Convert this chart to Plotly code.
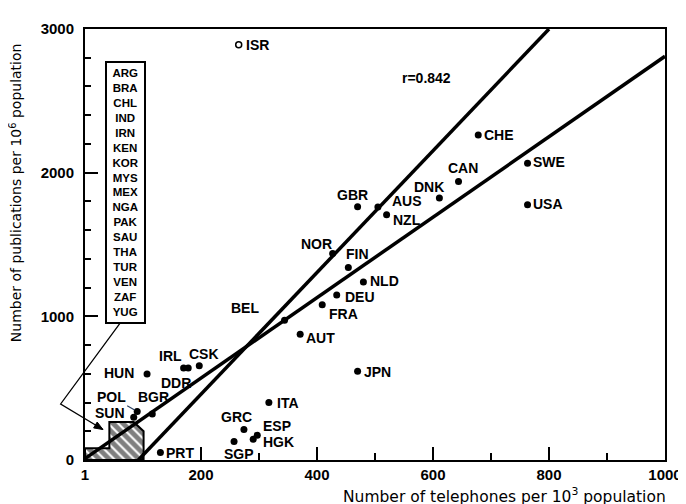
import math
import plotly.graph_objects as go

# ---------------- data ----------------
codes = ["ISR", "GBR", "AUS", "NZL", "DNK", "CHE", "CAN", "SWE", "USA", "NOR",
         "FIN", "NLD", "DEU", "FRA", "BEL", "AUT", "JPN", "ITA", "GRC", "ESP",
         "HGK", "SGP", "PRT", "HUN", "IRL", "DDR", "CSK", "POL", "SUN", "BGR"]
telephones = [265, 470, 505, 520, 611, 678, 644, 763, 763, 427,
              454, 480, 434, 409, 344, 371, 470, 317, 274, 297,
              290, 257, 130, 107, 170, 178, 197, 90, 84, 116]
publications = [2891, 1763, 1761, 1707, 1823, 2262, 1939, 2066, 1777, 1437,
                1340, 1239, 1148, 1080, 973, 875, 617, 401, 212, 173,
                144, 128, 52, 599, 640, 640, 656, 337, 298, 321]
open_codes = ["ISR"]

boxed_countries = ["ARG", "BRA", "CHL", "IND", "IRN", "KEN", "KOR", "MYS", "MEX",
                   "NGA", "PAK", "SAU", "THA", "TUR", "VEN", "ZAF", "YUG"]

# regression lines (end points)
fit_steep_x = [92, 800]
fit_steep_y = [0, 3000]
fit_flat_x = [0, 1000]
fit_flat_y = [10, 2810]

# hatched region (countries listed in the box)
hatch_x = [0, 0, 42, 42, 84, 101, 101, 0]
hatch_y = [0, 82, 82, 264, 264, 200, 0, 0]

r_text = "r=0.842"
x_tickvals = [0, 200, 400, 600, 800, 1000]
x_ticktext = ["1", "200", "400", "600", "800", "1000"]
y_tickvals = [0, 1000, 2000, 3000]
y_ticktext = ["0", "1000", "2000", "3000"]

# ---------------- styles / placement ----------------
FONT = "Liberation Sans"
X_RANGE = (0, 1000)
Y_RANGE = (0, 3000)
PLOT_W, PLOT_H = 588, 440

label_pos = {  # code: (xanchor, xshift px, yshift px)
    "ISR": ("left", 5, 0), "GBR": ("center", -5, 12), "AUS": ("left", 12, 6),
    "NZL": ("left", 4, -5), "DNK": ("center", -10, 11), "CHE": ("left", 4, 0),
    "CAN": ("center", 4, 13), "SWE": ("left", 3, 1), "USA": ("left", 3, 1),
    "NOR": ("center", -16, 10), "FIN": ("center", 9, 13), "NLD": ("left", 5, 1),
    "DEU": ("left", 6, -2), "FRA": ("left", 5, -9), "BEL": ("center", -40, 12),
    "AUT": ("left", 4, -4), "JPN": ("left", 4, -1), "ITA": ("left", 6, -1),
    "GRC": ("center", -7, 13), "ESP": ("left", 4, 9), "HGK": ("left", 8, -3),
    "SGP": ("center", 5, -12), "PRT": ("left", 4, 0), "HUN": ("right", -11, 1),
    "IRL": ("center", -13, 12), "DDR": ("center", -12, -15), "CSK": ("center", 5, 12),
    "SUN": ("center", -24, 4), "BGR": ("center", 1, 17),
}


def to_paper(x, y):
    return ((x - X_RANGE[0]) / (X_RANGE[1] - X_RANGE[0]),
            (y - Y_RANGE[0]) / (Y_RANGE[1] - Y_RANGE[0]))


fig = go.Figure()

# hatched area
fig.add_trace(go.Scatter(
    x=hatch_x, y=hatch_y, mode="lines", fill="toself",
    fillcolor="white",
    fillpattern=dict(shape="\\", fgcolor="black", bgcolor="white", size=7, solidity=0.7),
    line=dict(color="black", width=2), hoverinfo="skip", showlegend=False))

# regression lines
for lx, ly in ((fit_steep_x, fit_steep_y), (fit_flat_x, fit_flat_y)):
    fig.add_trace(go.Scatter(x=lx, y=ly, mode="lines",
                             line=dict(color="black", width=3.5),
                             hoverinfo="skip", showlegend=False))

# points
filled = [i for i, c in enumerate(codes) if c not in open_codes]
opened = [i for i, c in enumerate(codes) if c in open_codes]
fig.add_trace(go.Scatter(
    x=[telephones[i] for i in filled], y=[publications[i] for i in filled],
    mode="markers", marker=dict(color="black", size=7), showlegend=False))
fig.add_trace(go.Scatter(
    x=[telephones[i] for i in opened], y=[publications[i] for i in opened],
    mode="markers", marker=dict(color="white", size=6, line=dict(color="black", width=1.5)),
    showlegend=False))

lab_font = dict(family=FONT, size=14, color="black")
annotations = []
for c, xv, yv in zip(codes, telephones, publications):
    if c == "POL":
        annotations.append(dict(x=xv, y=yv, xref="x", yref="y", text="<b>POL</b>",
                                showarrow=True, arrowhead=0, arrowwidth=1.2,
                                ax=-26, ay=-15, standoff=3, font=lab_font))
        continue
    xa, xs, ys = label_pos[c]
    annotations.append(dict(x=xv, y=yv, xref="x", yref="y", text=f"<b>{c}</b>",
                            showarrow=False, xanchor=xa, yanchor="middle",
                            xshift=xs, yshift=ys, font=lab_font))

# box with country list (one bordered text block)
annotations.append(dict(x=69, y=2775, xref="x", yref="y",
                        text="<br>".join(f"<b>{c}</b>" for c in boxed_countries),
                        showarrow=False, xanchor="center", yanchor="top",
                        width=37, height=259, borderpad=0, bordercolor="black",
                        borderwidth=2, bgcolor="white", valign="middle",
                        font=dict(family=FONT, size=11.5, color="black")))

# r value
annotations.append(dict(x=588, y=2658, xref="x", yref="y", text=f"<b>{r_text}</b>",
                        showarrow=False, font=dict(family=FONT, size=14, color="black")))

# axis titles
annotations.append(dict(x=1.006, y=-0.082, xref="paper", yref="paper",
                        text="Number of telephones per 10<sup>3</sup> population",
                        showarrow=False, xanchor="right", yanchor="middle",
                        font=dict(family="DejaVu Sans", size=15.5, color="black")))
annotations.append(dict(x=-0.12, y=0.62, xref="paper", yref="paper",
                        text="Number of publications per 10<sup>6</sup> population",
                        showarrow=False, textangle=-90, xanchor="center", yanchor="middle",
                        font=dict(family="DejaVu Sans", size=14, color="black")))

# connector from box to hatched area (paper coordinates), with arrow head
c0 = to_paper(70, 1005)
c1 = to_paper(-42, 390)
c2 = to_paper(31, 212)
connector = dict(type="path", xref="paper", yref="paper",
                 path=f"M {c0[0]} {c0[1]} L {c1[0]} {c1[1]} L {c2[0]} {c2[1]}",
                 line=dict(color="black", width=1.3))
dx = (c2[0] - c1[0]) * PLOT_W
dy = (c2[1] - c1[1]) * PLOT_H
L = math.hypot(dx, dy)
ux, uy = dx / L, dy / L
hl, hw = 9, 3.5
bx, by = -ux * hl, -uy * hl
p1 = (c2[0] + (bx - uy * hw) / PLOT_W, c2[1] + (by + ux * hw) / PLOT_H)
p2 = (c2[0] + (bx + uy * hw) / PLOT_W, c2[1] + (by - ux * hw) / PLOT_H)
head = dict(type="path", xref="paper", yref="paper",
            path=f"M {c2[0]} {c2[1]} L {p1[0]} {p1[1]} L {p2[0]} {p2[1]} Z",
            fillcolor="black", line=dict(color="black", width=1))

fig.update_layout(
    width=686, height=504,
    margin=dict(l=77, r=21, t=12, b=52),
    paper_bgcolor="white", plot_bgcolor="white",
    showlegend=False,
    annotations=annotations,
    shapes=[connector, head],
    font=dict(family=FONT, size=14, color="black"),
)
fig.update_xaxes(range=list(X_RANGE), tickvals=x_tickvals,
                 ticktext=[f"<b>{t}</b>" for t in x_ticktext],
                 ticks="inside", ticklen=13, tickwidth=2, tickcolor="black",
                 minor=dict(dtick=100, ticks="inside", ticklen=7, tickwidth=1.5, tickcolor="black"),
                 showline=True, linewidth=2, linecolor="black", mirror=True,
                 showgrid=False, zeroline=False,
                 tickfont=dict(family=FONT, size=15, color="black"))
fig.update_yaxes(range=list(Y_RANGE), tickvals=y_tickvals,
                 ticktext=[f"<b>{t}</b>" for t in y_ticktext],
                 ticks="inside", ticklen=13, tickwidth=2, tickcolor="black",
                 minor=dict(dtick=200, ticks="inside", ticklen=6, tickwidth=1.5, tickcolor="black"),
                 showline=True, linewidth=2, linecolor="black", mirror=True,
                 showgrid=False, zeroline=False, ticklabelstandoff=6,
                 tickfont=dict(family=FONT, size=15, color="black"))

fig.write_html("out.html")
